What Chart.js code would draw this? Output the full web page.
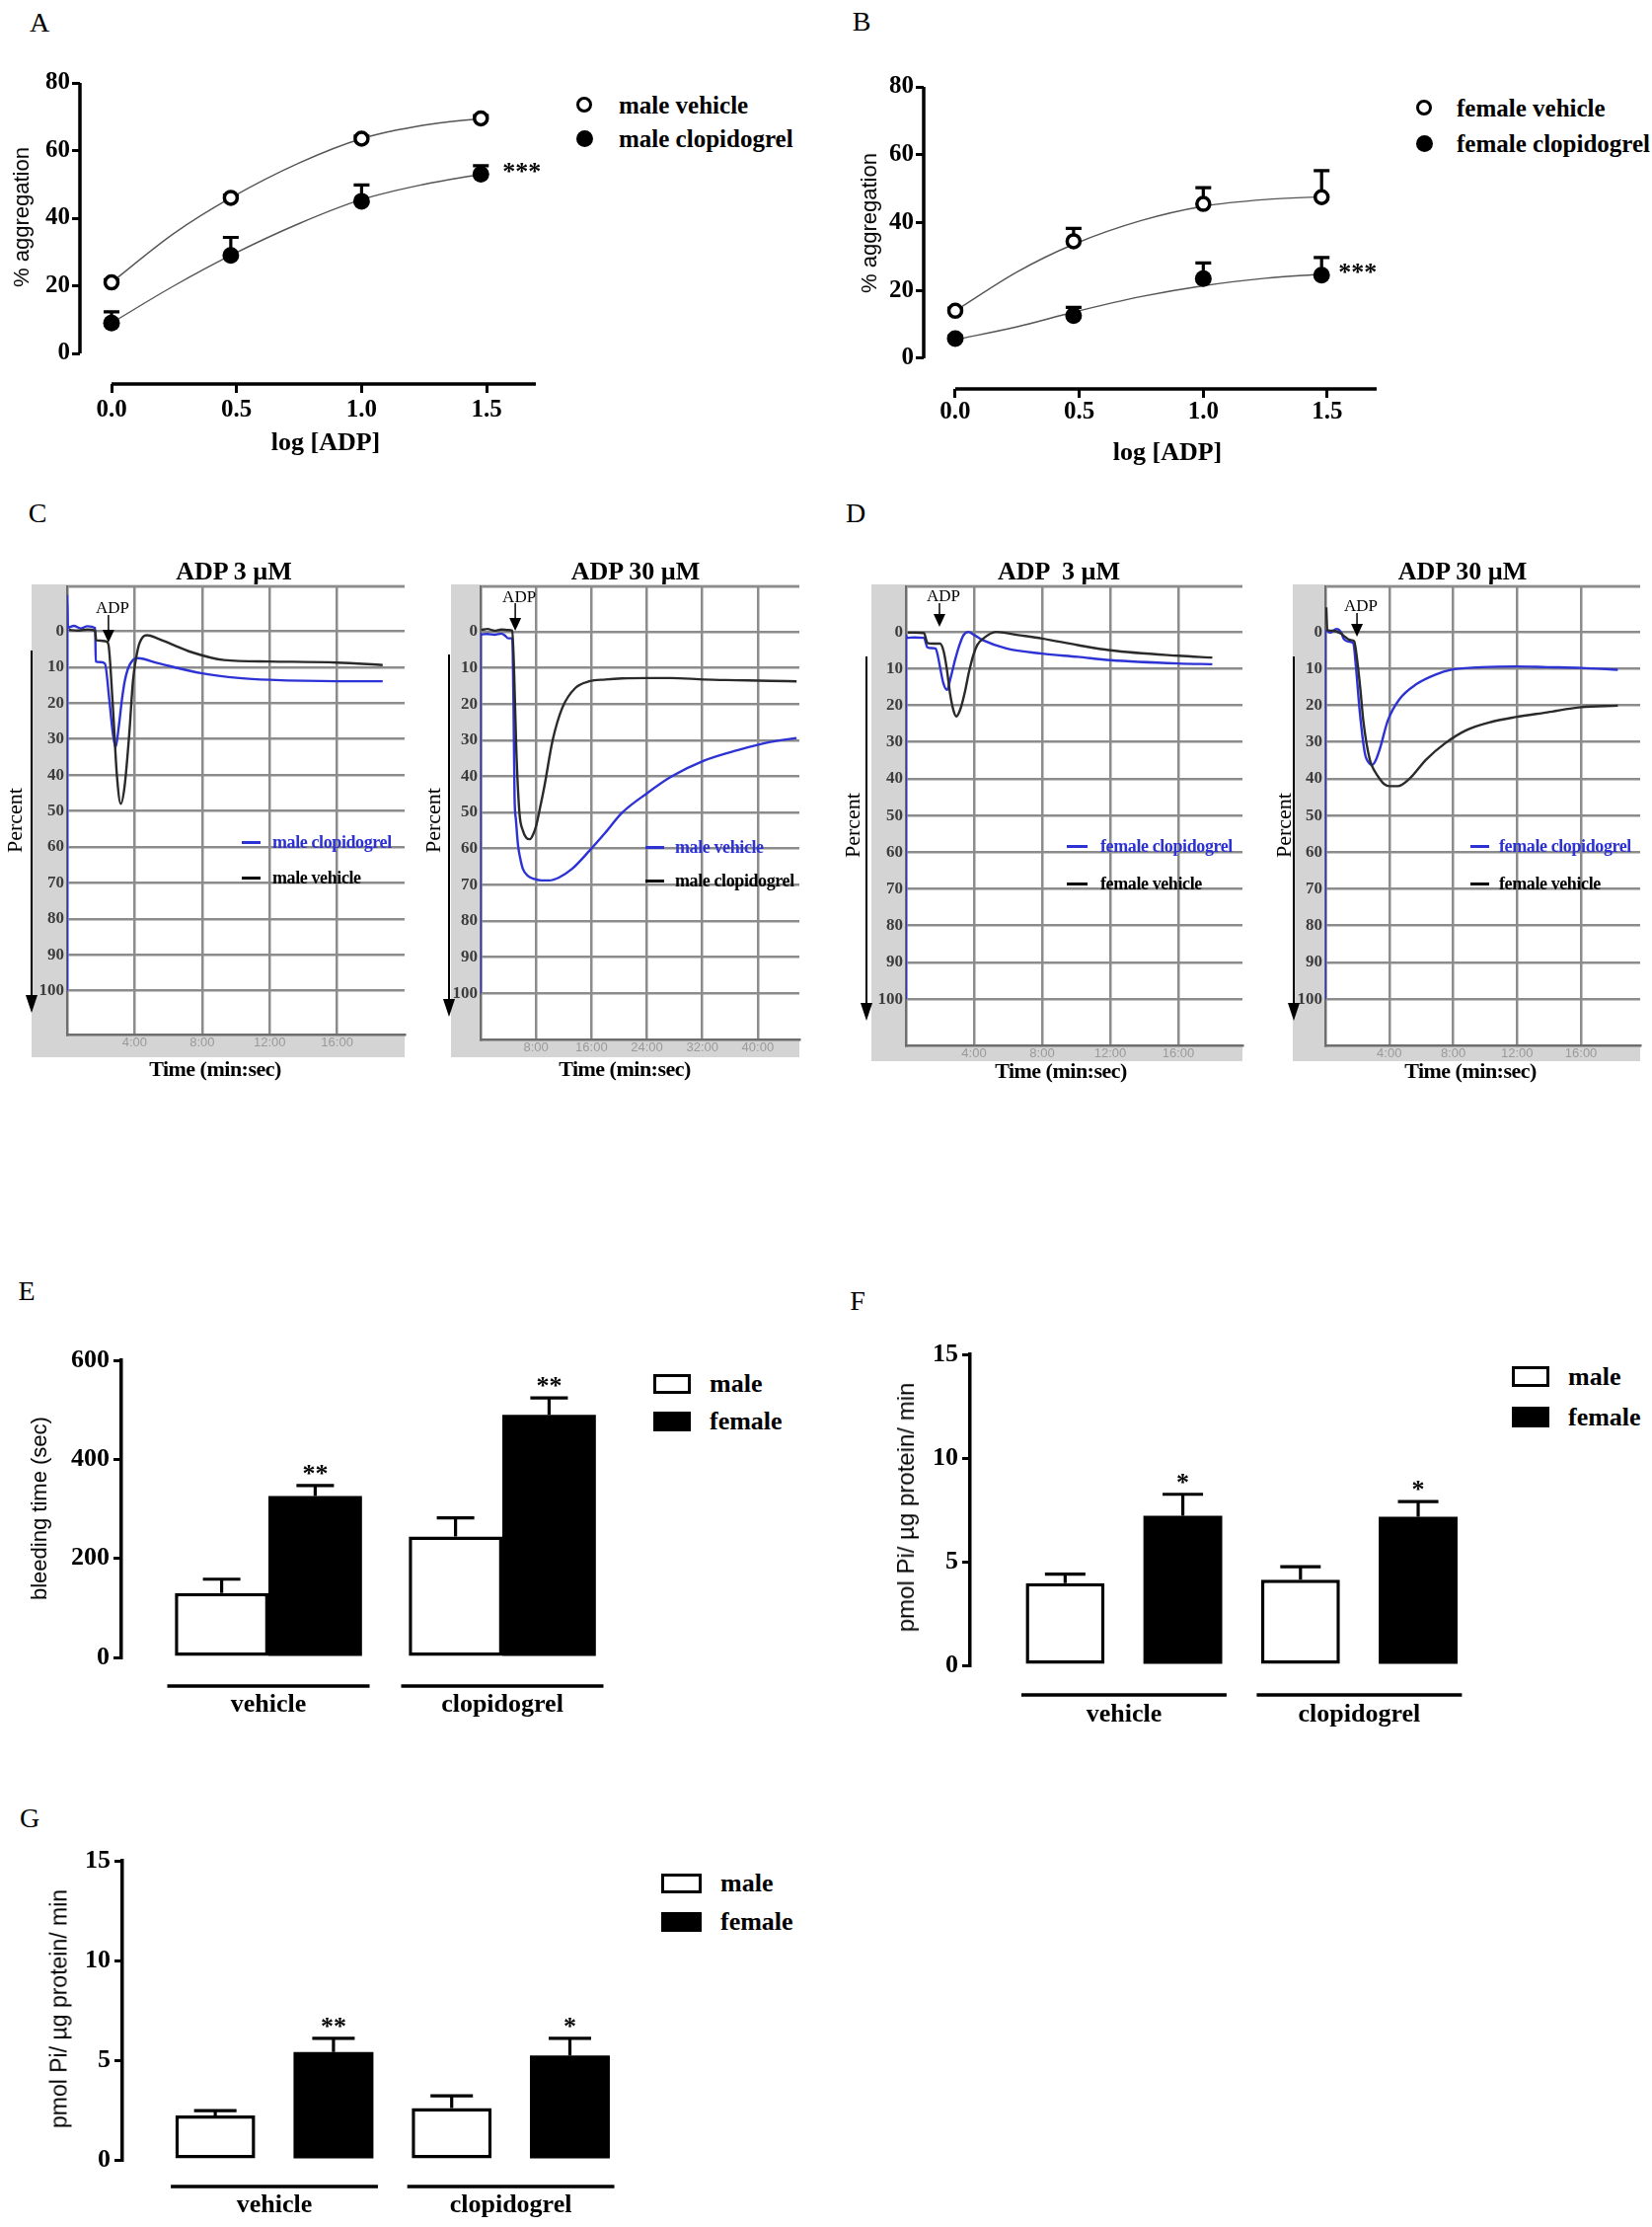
<!DOCTYPE html>
<html>
<head>
<meta charset="utf-8">
<script src="https://cdn.jsdelivr.net/npm/chart.js@4.4.0/dist/chart.umd.min.js"></script>
<style>
  html, body { margin: 0; padding: 0; background: #fff; }
  #fig { position: relative; width: 1674px; height: 2256px; overflow: hidden; font-family: 'Liberation Serif', 'Times New Roman', serif; color: #000; }
  .t { position: absolute; white-space: pre; line-height: 1; }
</style>
</head>
<body>
<div id="fig"></div>
<script>
// ---- A / B : dose response ----
const doseLog = [0, 0.477, 1, 1.477];
const fitLog = [0, 0.25, 0.477, 0.75, 1, 1.25, 1.477];
const doseTicks = [0, 0.5, 1.0, 1.5];
const aggTicks = [0, 20, 40, 60, 80];

const maleVehicle = [21, 46, 63.5, 69.5];
const maleVehicleErr = [0.8, 0.8, 0.8, 0.8];
const maleClop = [9, 29, 45, 53];
const maleClopErr = [3.3, 5.3, 4.8, 2.5];
const maleVehicleFit = [21, 35.5, 46, 56.3, 63.5, 67.5, 69.5];
const maleClopFit = [9, 20, 29, 38.4, 45.5, 50, 53];

const femaleVehicle = [14, 34.5, 45.5, 47.5];
const femaleVehicleErr = [0.8, 3.8, 4.8, 7.8];
const femaleClop = [5.8, 12.6, 23.5, 24.5];
const femaleClopErr = [0.8, 2.4, 4.6, 5.2];
const femaleVehicleFit = [14, 25.5, 33.6, 40.6, 44.8, 46.8, 47.6];
const femaleClopFit = [5.5, 9.3, 13.6, 18.2, 21.4, 23.6, 24.8];

// ---- C / D : aggregometer traces (time in min, % aggregation) ----
const percentTicks = [0, 10, 20, 30, 40, 50, 60, 70, 80, 90, 100];
const shortTicks = [4, 8, 12, 16];
const longTicks = [8, 16, 24, 32, 40];

const cLowClopT = [0, 0.001, 0.05, 0.4, 0.8, 1.2, 1.66, 1.7, 2.0, 2.24, 2.5, 2.7, 2.87, 3.05, 3.25, 3.41, 3.6, 3.9, 4.2, 5.4, 8, 10.2, 12, 16, 18.7];
const cLowClopV = [100, -10, -1, -1.5, -0.8, -1.4, -0.9, 8.4, 8.6, 9, 19, 28, 32.3, 27, 19, 14, 10.5, 8, 7.5, 8.9, 11.7, 13, 13.5, 13.9, 13.9];
const cLowVehT = [0.1, 0.6, 1.2, 1.66, 1.72, 2.0, 2.3, 2.44, 2.7, 2.95, 3.18, 3.41, 3.7, 3.9, 4.2, 4.49, 4.74, 5.37, 6.3, 7.3, 9.3, 12, 16, 18.7];
const cLowVehV = [-0.4, -0.2, -0.5, -0.2, 2.5, 2.6, 2.8, 3.5, 20, 40, 48, 43, 27.5, 14, 4.8, 1.6, 1.1, 2.0, 3.8, 5.7, 8.0, 8.4, 8.7, 9.4];

const cHighVehT = [0, 0.001, 0.1, 1, 2, 3, 3.5, 4.0, 4.57, 4.75, 4.9, 5.1, 5.4, 5.7, 6.1, 6.8, 7.76, 8.8, 9.9, 11.3, 13.2, 15.7, 18, 20.4, 24, 27.5, 32.3, 37, 41.8, 45.6];
const cHighVehV = [100, 0.5, 0.7, 0.6, 0.8, 0.5, 1.0, 1.8, 1.8, 20, 45.6, 52, 59, 62.5, 65.6, 67.5, 68.4, 68.8, 68.8, 68, 65.6, 60.6, 55.6, 50.1, 44.7, 40.1, 35.6, 32.8, 30.5, 29.4];
const cHighClopT = [0.1, 1, 2, 3, 4, 4.57, 4.85, 5.14, 5.6, 6.1, 6.6, 7.1, 7.6, 8, 8.6, 9.2, 10.4, 11.8, 13.7, 15.7, 18, 20.4, 24, 27.5, 32.3, 37, 41.8, 45.6];
const cHighClopV = [-0.5, -0.8, -0.3, -0.6, -0.5, -0.3, 12, 31.9, 50, 55, 57, 57.4, 56, 53.8, 48.5, 42.8, 30, 21, 15.5, 13.7, 13.2, 12.9, 12.8, 12.8, 13.2, 13.4, 13.6, 13.7];

const dLowClopT = [0, 0.001, 0.05, 0.5, 1.06, 1.26, 1.5, 1.74, 1.85, 2.0, 2.2, 2.42, 2.6, 2.9, 3.15, 3.38, 3.67, 4.0, 4.54, 5.9, 8, 10.1, 12, 16, 18];
const dLowClopV = [100, 0.8, 1.6, 1.5, 1.6, 4.2, 4.4, 4.5, 6, 9.5, 14, 15.8, 13, 7.4, 3.5, 0.9, 0, 0.8, 2.3, 4.5, 5.9, 6.8, 7.7, 8.6, 8.8];
const dLowVehT = [0.1, 0.5, 1.06, 1.26, 1.6, 2.0, 2.2, 2.4, 2.6, 2.8, 2.96, 3.2, 3.48, 3.7, 3.96, 4.2, 4.54, 5.3, 6.5, 8, 10.1, 12, 16, 18];
const dLowVehV = [0.2, 0.2, 0.3, 3.0, 3.2, 3.2, 5, 10, 17, 21.5, 23, 21, 16, 11, 6.3, 3.5, 1.8, 0, 0.8, 1.8, 3.6, 5.0, 6.5, 7.0];

const dHighClopT = [0, 0.001, 0.05, 0.3, 0.7, 1.0, 1.14, 1.55, 1.75, 1.92, 2.16, 2.47, 2.75, 2.95, 3.15, 3.4, 3.92, 4.64, 5.67, 6.9, 7.9, 9.8, 11.9, 13.9, 16, 18.3];
const dHighClopV = [100, -0.4, -0.4, 0.2, -0.8, 0.2, 1.8, 2.7, 3.1, 9.8, 22, 33, 35.8, 36.2, 35, 32, 24, 18.3, 14.3, 11.6, 10.3, 9.6, 9.4, 9.6, 9.8, 10.3];
const dHighVehT = [0.06, 0.12, 0.5, 1.0, 1.14, 1.55, 1.8, 2.0, 2.2, 2.37, 2.78, 3.1, 3.4, 3.7, 4.0, 4.54, 5.26, 6.3, 7.5, 8.8, 10.4, 11.9, 13.9, 16, 18.3];
const dHighVehV = [-6.7, -0.5, -0.3, 0.5, 1.0, 2.2, 2.5, 8, 16, 24, 34.8, 38, 40, 41.5, 42, 42, 40, 34.8, 30.3, 26.8, 24.5, 23.2, 21.9, 20.5, 20.1];

// ---- E / F / G : bars ----
const groupX = [0, 1];
const groupNames = ['vehicle', 'clopidogrel'];
const bleedTicks = [0, 200, 400, 600];
const piTicks = [0, 5, 10, 15];

const bleedMale = [130, 244];
const bleedMaleErr = [28, 38];
const bleedFemale = [326, 490];
const bleedFemaleErr = [21, 34];
const bleedStars = ['**', '**'];

const fMale = [3.97, 4.13];
const fMaleErr = [0.43, 0.63];
const fFemale = [7.22, 7.17];
const fFemaleErr = [1.03, 0.73];
const fStars = ['*', '*'];

const gMale = [2.23, 2.6];
const gMaleErr = [0.24, 0.61];
const gFemale = [5.41, 5.24];
const gFemaleErr = [0.69, 0.86];
const gStars = ['**', '*'];

const BLUE = '#2d32d4';
const DARK = '#2a2a2a';

Chart.defaults.font.family = "'Liberation Serif', 'Times New Roman', serif";
Chart.defaults.color = '#000';

const fig = document.getElementById('fig');

function zeroPad(s) { s.paddingLeft = 0; s.paddingRight = 0; s.paddingTop = 0; s.paddingBottom = 0; }

// place a chart so that its chartArea lands on page pixels "area"
function mount(box, area, cfg) {
  const cv = document.createElement('canvas');
  cv.width = box.w; cv.height = box.h;
  cv.style.cssText = 'position:absolute;left:' + box.x + 'px;top:' + box.y + 'px;width:' + box.w + 'px;height:' + box.h + 'px';
  fig.appendChild(cv);
  const o = cfg.options;
  o.responsive = false;
  o.animation = false;
  o.events = [];
  o.layout = { autoPadding: false, padding: { left: 0, bottom: 0, top: area.t - box.y, right: box.x + box.w - area.r } };
  o.plugins = Object.assign({ legend: { display: false }, tooltip: { enabled: false }, title: { display: false } }, o.plugins || {});
  o.scales.x.afterFit = s => { s.height = box.y + box.h - area.b; zeroPad(s); };
  o.scales.y.afterFit = s => { s.width = area.l - box.x; zeroPad(s); };
  return new Chart(cv, cfg);
}

function txt(s, x, y, css, mode) {
  const d = document.createElement('div');
  d.className = 't';
  d.textContent = s;
  d.style.cssText = css + ';left:' + x + 'px;top:' + y + 'px';
  d.style.transform = mode === 'l' ? 'translateY(-50%)' : mode === 'v' ? 'translate(-50%,-50%) rotate(-90deg)' : 'translate(-50%,-50%)';
  fig.appendChild(d);
}

function rect(x, y, w, h, css) {
  const d = document.createElement('div');
  d.style.cssText = 'position:absolute;box-sizing:border-box;left:' + x + 'px;top:' + y + 'px;width:' + w + 'px;height:' + h + 'px;' + css;
  fig.appendChild(d);
}

function valOf(d) { return typeof d === 'object' ? d.y : d; }

function drawErrors(chart, layer) {
  const { ctx, scales: { y } } = chart;
  chart.data.datasets.forEach((ds, di) => {
    if (!ds.errors || ds.errLayer !== layer) return;
    chart.getDatasetMeta(di).data.forEach((el, i) => {
      const v = valOf(ds.data[i]);
      const yTop = y.getPixelForValue(v + ds.errors[i]);
      const yBase = y.getPixelForValue(v);
      ctx.save();
      ctx.strokeStyle = '#000';
      ctx.lineWidth = 3.2;
      ctx.beginPath();
      ctx.moveTo(el.x, yBase); ctx.lineTo(el.x, yTop);
      ctx.moveTo(el.x - ds.cap / 2, yTop); ctx.lineTo(el.x + ds.cap / 2, yTop);
      ctx.stroke();
      ctx.restore();
    });
  });
}

function drawStars(chart) {
  const { ctx, scales: { y } } = chart;
  chart.data.datasets.forEach((ds, di) => {
    if (!ds.stars) return;
    const els = chart.getDatasetMeta(di).data;
    ctx.save();
    ctx.fillStyle = '#000';
    ctx.font = 'bold 26px "Liberation Serif"';
    ds.stars.forEach((s, i) => {
      if (!s) return;
      const el = els[i];
      if (ds.starSide) {
        ctx.textAlign = 'left'; ctx.textBaseline = 'middle';
        ctx.fillText(s, el.x + ds.starSide, el.y - 1);
      } else {
        const top = y.getPixelForValue(valOf(ds.data[i]) + ds.errors[i]);
        ctx.textAlign = 'center'; ctx.textBaseline = 'alphabetic';
        ctx.fillText(s, el.x, top - 4);
      }
    });
    ctx.restore();
  });
}

const errorPlugin = {
  id: 'errorBars',
  beforeDatasetsDraw(chart) { drawErrors(chart, 'under'); },
  afterDatasetsDraw(chart) { drawErrors(chart, 'over'); drawStars(chart); }
};

// Prism style axes that stop at the first tick
function prismAxes(y0, y1) {
  return {
    id: 'prismAxes',
    afterDraw(chart) {
      const { ctx, chartArea: a, scales: { x, y } } = chart;
      ctx.save();
      ctx.strokeStyle = '#000';
      ctx.lineWidth = 3.5;
      ctx.beginPath();
      ctx.moveTo(a.left, y.getPixelForValue(y0)); ctx.lineTo(a.left, y.getPixelForValue(y1));
      ctx.moveTo(x.getPixelForValue(0), a.bottom); ctx.lineTo(a.right, a.bottom);
      ctx.stroke();
      ctx.restore();
    }
  };
}

function groupLines(half, dy) {
  return {
    id: 'groupLines',
    afterDraw(chart) {
      const { ctx, chartArea: a, scales: { x } } = chart;
      ctx.save();
      ctx.strokeStyle = '#000';
      ctx.lineWidth = 3.5;
      ctx.beginPath();
      groupX.forEach(g => {
        ctx.moveTo(x.getPixelForValue(g - half), a.bottom + dy);
        ctx.lineTo(x.getPixelForValue(g + half), a.bottom + dy);
      });
      ctx.stroke();
      ctx.restore();
    }
  };
}

function aggFrame(p) {
  return {
    id: 'aggFrame',
    beforeDraw(chart) {
      const { ctx, chartArea: a } = chart;
      ctx.save();
      ctx.fillStyle = '#d4d4d4';
      ctx.fillRect(a.left - p.gutter, a.top - 2, a.right - a.left + p.gutter, chart.height - a.top + 2);
      ctx.fillStyle = '#fff';
      ctx.fillRect(a.left, a.top, a.right - a.left, a.bottom - a.top);
      ctx.restore();
    },
    afterDraw(chart) {
      const { ctx, chartArea: a, scales: { x } } = chart;
      ctx.save();
      ctx.strokeStyle = '#000';
      ctx.fillStyle = '#000';
      // long arrow next to "Percent"
      const ax = a.left - p.arrowGut;
      const y0 = a.top + p.arrowY[0], y1 = a.top + p.arrowY[1];
      ctx.lineWidth = 2;
      ctx.beginPath(); ctx.moveTo(ax, y0); ctx.lineTo(ax, y1 - 16); ctx.stroke();
      ctx.beginPath(); ctx.moveTo(ax - 6, y1 - 18); ctx.lineTo(ax + 6, y1 - 18); ctx.lineTo(ax, y1); ctx.closePath(); ctx.fill();
      // ADP addition marker
      const px = x.getPixelForValue(p.adp.t);
      ctx.font = '17px "Liberation Serif"';
      ctx.textAlign = 'center';
      ctx.textBaseline = 'middle';
      ctx.fillText('ADP', px + 4, a.top + p.adp.labelY);
      ctx.lineWidth = 1.5;
      ctx.beginPath(); ctx.moveTo(px, a.top + p.adp.y1); ctx.lineTo(px, a.top + p.adp.y2 - 10); ctx.stroke();
      ctx.beginPath(); ctx.moveTo(px - 6, a.top + p.adp.y2 - 13); ctx.lineTo(px + 6, a.top + p.adp.y2 - 13); ctx.lineTo(px, a.top + p.adp.y2); ctx.closePath(); ctx.fill();
      ctx.restore();
    }
  };
}

function doseChart(p) {
  const pts = arr => doseLog.map((x, i) => ({ x, y: arr[i] }));
  const fit = arr => fitLog.map((x, i) => ({ x, y: arr[i] }));
  const tickFont = { size: 25, weight: 'bold' };
  const tickGrid = len => ({ display: true, drawOnChartArea: false, drawTicks: true, tickLength: len, lineWidth: 3, color: '#000' });
  return mount(p.box, p.area, {
    type: 'line',
    data: {
      datasets: [
        { data: pts(p.veh), showLine: false, pointRadius: 6.5, pointBorderWidth: 3.5, pointBackgroundColor: '#fff', pointBorderColor: '#000', errors: p.vehErr, errLayer: 'under', cap: 16, order: 0, clip: false },
        { data: pts(p.clop), showLine: false, pointRadius: 8.5, pointBorderWidth: 0, pointBackgroundColor: '#000', pointBorderColor: '#000', errors: p.clopErr, errLayer: 'under', cap: 16, stars: ['', '', '', '***'], starSide: p.starDx, order: 1, clip: false },
        { data: fit(p.vehFit), borderColor: '#555', borderWidth: 1.4, pointRadius: 0, cubicInterpolationMode: 'monotone', order: 3 },
        { data: fit(p.clopFit), borderColor: '#555', borderWidth: 1.4, pointRadius: 0, cubicInterpolationMode: 'monotone', order: 3 }
      ]
    },
    options: {
      scales: {
        x: {
          type: 'linear', min: p.xMin, max: p.xMax,
          afterBuildTicks: s => { s.ticks = doseTicks.map(v => ({ value: v })); },
          ticks: { callback: v => v.toFixed(1), font: tickFont, color: '#000', padding: p.xPad, maxRotation: 0, autoSkip: false },
          grid: tickGrid(9), border: { display: false }
        },
        y: {
          type: 'linear', min: p.yMin, max: 80,
          afterBuildTicks: s => { s.ticks = aggTicks.map(v => ({ value: v })); },
          ticks: { font: tickFont, color: '#000', padding: 2, autoSkip: false },
          grid: tickGrid(8), border: { display: false }
        }
      }
    },
    plugins: [errorPlugin, prismAxes(0, 80)]
  });
}

function traceChart(p) {
  const datasets = p.series.map(s => ({
    data: s.t.map((t, i) => ({ x: t, y: s.v[i] })),
    borderColor: s.color, borderWidth: 2.4, pointRadius: 0, fill: false,
    cubicInterpolationMode: 'monotone'
  }));
  return mount(p.box, p.area, {
    type: 'line',
    data: { datasets },
    options: {
      scales: {
        x: {
          type: 'linear', min: 0, max: p.xMax,
          afterBuildTicks: s => { s.ticks = p.xTicks.map(v => ({ value: v })); },
          ticks: { callback: v => v + ':00', font: { family: "'Liberation Sans', sans-serif", size: 13 }, color: '#9a9a9a', padding: 1, maxRotation: 0, autoSkip: false },
          grid: { color: '#8c8c8c', lineWidth: 2.5, drawTicks: false },
          border: { display: true, color: '#6e6e6e', width: 2.5 }
        },
        y: {
          type: 'linear', reverse: true, min: p.yMin, max: p.yMax,
          afterBuildTicks: s => { s.ticks = [p.yMin].concat(percentTicks).map(v => ({ value: v })); },
          ticks: { callback: v => (v < 0 ? '' : v), font: { size: 17, weight: 'bold' }, color: '#3c3c3c', padding: 3, autoSkip: false },
          grid: { color: '#8c8c8c', lineWidth: 2.5, drawTicks: false },
          border: { display: true, color: '#6e6e6e', width: 2.5 }
        }
      }
    },
    plugins: [aggFrame(p)]
  });
}

function barChart(p) {
  const pts = arr => groupX.map((x, i) => ({ x, y: arr[i] }));
  return mount(p.box, p.area, {
    type: 'bar',
    data: {
      datasets: [
        { data: pts(p.male), backgroundColor: '#fff', borderColor: '#000', borderWidth: 3.5, borderSkipped: false, categoryPercentage: p.catPct, barPercentage: p.barPct, errors: p.maleErr, errLayer: 'over', cap: p.cap },
        { data: pts(p.female), backgroundColor: '#000', borderColor: '#000', borderWidth: 0, categoryPercentage: p.catPct, barPercentage: p.barPct, errors: p.femaleErr, errLayer: 'over', cap: p.cap, stars: p.stars }
      ]
    },
    options: {
      scales: {
        x: {
          type: 'linear', min: p.xMin, max: p.xMax, offset: false,
          afterBuildTicks: s => { s.ticks = groupX.map(v => ({ value: v })); },
          ticks: { callback: v => groupNames[groupX.indexOf(v)], font: { size: 26, weight: 'bold' }, color: '#000', padding: p.labelPad, maxRotation: 0, autoSkip: false },
          grid: { display: false, drawTicks: false, tickLength: 0, offset: false },
          border: { display: false }
        },
        y: {
          type: 'linear', min: 0, max: p.yTicks[p.yTicks.length - 1],
          afterBuildTicks: s => { s.ticks = p.yTicks.map(v => ({ value: v })); },
          ticks: { font: { size: 26, weight: 'bold' }, color: '#000', padding: 4, autoSkip: false },
          grid: { display: true, drawOnChartArea: false, drawTicks: true, tickLength: 8, lineWidth: 3, color: '#000' },
          border: { display: true, color: '#000', width: 3.5 }
        }
      }
    },
    plugins: [errorPlugin, groupLines(p.half, p.lineDy)]
  });
}

// ---------- A ----------
doseChart({
  box: { x: 0, y: 60, w: 560, h: 420 }, area: { l: 81, t: 84, r: 543, b: 389 },
  xMin: -0.1263, xMax: 1.697, yMin: -9.05, xPad: 3, starDx: 22,
  veh: maleVehicle, vehErr: maleVehicleErr, clop: maleClop, clopErr: maleClopErr,
  vehFit: maleVehicleFit, clopFit: maleClopFit
});
// ---------- B ----------
doseChart({
  box: { x: 840, y: 60, w: 570, h: 420 }, area: { l: 936, t: 88, r: 1395, b: 394 },
  xMin: -0.1273, xMax: 1.699, yMin: -9.02, xPad: 0, starDx: 17,
  veh: femaleVehicle, vehErr: femaleVehicleErr, clop: femaleClop, clopErr: femaleClopErr,
  vehFit: femaleVehicleFit, clopFit: femaleClopFit
});

// ---------- C ----------
traceChart({
  box: { x: 20, y: 570, w: 392, h: 501 }, area: { l: 68, t: 594, r: 410, b: 1048 },
  gutter: 36, arrowGut: 36, arrowY: [65, 432],
  xMax: 20, yMin: -12.5, yMax: 112.2, xTicks: shortTicks,
  series: [{ t: cLowVehT, v: cLowVehV, color: DARK }, { t: cLowClopT, v: cLowClopV, color: BLUE }],
  adp: { t: 2.45, labelY: 23, y1: 29, y2: 57 }
});
traceChart({
  box: { x: 445, y: 570, w: 367, h: 501 }, area: { l: 487, t: 594, r: 810, b: 1053 },
  gutter: 30, arrowGut: 32, arrowY: [69, 436],
  xMax: 46, yMin: -12.57, yMax: 112.8, xTicks: longTicks,
  series: [{ t: cHighClopT, v: cHighClopV, color: DARK }, { t: cHighVehT, v: cHighVehV, color: BLUE }],
  adp: { t: 5.0, labelY: 12, y1: 17, y2: 45 }
});

// ---------- D ----------
traceChart({
  box: { x: 870, y: 570, w: 391, h: 505 }, area: { l: 918, t: 594, r: 1259, b: 1059 },
  gutter: 35, arrowGut: 40, arrowY: [71, 440],
  xMax: 19.77, yMin: -12.4, yMax: 112.6, xTicks: shortTicks,
  series: [{ t: dLowVehT, v: dLowVehV, color: DARK }, { t: dLowClopT, v: dLowClopV, color: BLUE }],
  adp: { t: 1.97, labelY: 11, y1: 17, y2: 41 }
});
traceChart({
  box: { x: 1298, y: 570, w: 366, h: 505 }, area: { l: 1343, t: 594, r: 1662, b: 1059 },
  gutter: 33, arrowGut: 32, arrowY: [71, 440],
  xMax: 19.7, yMin: -12.4, yMax: 112.6, xTicks: shortTicks,
  series: [{ t: dHighVehT, v: dHighVehV, color: DARK }, { t: dHighClopT, v: dHighClopV, color: BLUE }],
  adp: { t: 1.98, labelY: 21, y1: 27, y2: 51 }
});

// ---------- E ----------
barChart({
  box: { x: 0, y: 1350, w: 660, h: 420 }, area: { l: 123, t: 1378, r: 640, b: 1679 },
  xMin: -0.6287, xMax: 1.5527, yTicks: bleedTicks, catPct: 0.8, barPct: 1.0,
  half: 0.4325, lineDy: 29, labelPad: 33, cap: 38,
  male: bleedMale, maleErr: bleedMaleErr, female: bleedFemale, femaleErr: bleedFemaleErr, stars: bleedStars
});
// ---------- F ----------
barChart({
  box: { x: 820, y: 1345, w: 700, h: 425 }, area: { l: 983, t: 1372, r: 1500, b: 1687 },
  xMin: -0.654, xMax: 1.514, yTicks: piTicks, catPct: 1.0, barPct: 0.67,
  half: 0.436, lineDy: 30, labelPad: 35, cap: 41,
  male: fMale, maleErr: fMaleErr, female: fFemale, femaleErr: fFemaleErr, stars: fStars
});
// ---------- G ----------
barChart({
  box: { x: 0, y: 1860, w: 660, h: 396 }, area: { l: 124, t: 1885, r: 640, b: 2188 },
  xMin: -0.643, xMax: 1.511, yTicks: piTicks, catPct: 1.0, barPct: 0.676,
  half: 0.438, lineDy: 27, labelPad: 31, cap: 43,
  male: gMale, maleErr: gMaleErr, female: gFemale, femaleErr: gFemaleErr, stars: gStars
});

// ---------- text & legends ----------
const letter = 'font-size:28px';
txt('A', 40, 23, letter); txt('B', 873, 22, letter);
txt('C', 38, 520, letter); txt('D', 867, 520, letter);
txt('E', 27, 1308, letter); txt('F', 869, 1318, letter); txt('G', 30, 1842, letter);

const sans = "font-family:'Liberation Sans',sans-serif;";
const boldLbl = 'font-weight:bold;font-size:25px';
txt('% aggregation', 22, 220, sans + 'font-size:22px', 'v');
txt('log [ADP]', 330, 448, 'font-weight:bold;font-size:26px');
rect(584, 98, 16, 16, 'border:3.5px solid #000;border-radius:50%;background:#fff');
rect(583.5, 131.5, 17, 17, 'background:#000;border-radius:50%');
txt('male vehicle', 627, 106, boldLbl, 'l');
txt('male clopidogrel', 627, 140, boldLbl, 'l');

txt('% aggregation', 881, 226, sans + 'font-size:22px', 'v');
txt('log [ADP]', 1183, 458, 'font-weight:bold;font-size:26px');
rect(1435, 101, 16, 16, 'border:3.5px solid #000;border-radius:50%;background:#fff');
rect(1434.5, 136.5, 17, 17, 'background:#000;border-radius:50%');
txt('female vehicle', 1476, 109, boldLbl, 'l');
txt('female clopidogrel', 1476, 145, boldLbl, 'l');

const ttl = 'font-weight:bold;font-size:26px';
const tim = 'font-weight:bold;font-size:22px;letter-spacing:-0.5px';
const pct = 'font-size:22px';
const leg = 'font-weight:bold;font-size:18px;letter-spacing:-0.4px';
txt('ADP 3 µM', 237, 579, ttl); txt('ADP 30 µM', 644, 579, ttl);
txt('Time (min:sec)', 218, 1083, tim); txt('Time (min:sec)', 633, 1083, tim);
txt('Percent', 15, 831, pct, 'v'); txt('Percent', 439, 831, pct, 'v');
rect(245, 852, 19, 2.5, 'background:' + BLUE); txt('male clopidogrel', 276, 853, leg + ';color:' + BLUE, 'l');
rect(245, 888, 19, 2.5, 'background:#000'); txt('male vehicle', 276, 889, leg, 'l');
rect(654, 857, 19, 2.5, 'background:' + BLUE); txt('male vehicle', 684, 858, leg + ';color:' + BLUE, 'l');
rect(654, 891, 19, 2.5, 'background:#000'); txt('male clopidogrel', 684, 892, leg, 'l');

txt('ADP  3 µM', 1073, 579, ttl); txt('ADP 30 µM', 1482, 579, ttl);
txt('Time (min:sec)', 1075, 1085, tim); txt('Time (min:sec)', 1490, 1085, tim);
txt('Percent', 864, 836, pct, 'v'); txt('Percent', 1301, 836, pct, 'v');
rect(1081, 856, 21, 2.5, 'background:' + BLUE); txt('female clopidogrel', 1115, 857, leg + ';color:' + BLUE, 'l');
rect(1081, 894, 21, 2.5, 'background:#000'); txt('female vehicle', 1115, 895, leg, 'l');
rect(1490, 856, 19, 2.5, 'background:' + BLUE); txt('female clopidogrel', 1519, 857, leg + ';color:' + BLUE, 'l');
rect(1490, 894, 19, 2.5, 'background:#000'); txt('female vehicle', 1519, 895, leg, 'l');

const barLeg = 'font-weight:bold;font-size:26px';
txt('bleeding time (sec)', 40, 1528, sans + 'font-size:22px', 'v');
rect(662, 1392, 38, 20, 'border:3px solid #000;background:#fff');
rect(662, 1430, 38, 20, 'background:#000');
txt('male', 719, 1402, barLeg, 'l'); txt('female', 719, 1440, barLeg, 'l');

txt('pmol Pi/ µg protein/ min', 918, 1527, sans + 'font-size:24px', 'v');
rect(1532, 1384, 38, 21, 'border:3px solid #000;background:#fff');
rect(1532, 1425, 38, 21, 'background:#000');
txt('male', 1589, 1395, barLeg, 'l'); txt('female', 1589, 1436, barLeg, 'l');

txt('pmol Pi/ µg protein/ min', 60, 2035, sans + 'font-size:23px', 'v');
rect(670, 1898, 41, 20, 'border:3px solid #000;background:#fff');
rect(670, 1937, 41, 20, 'background:#000');
txt('male', 730, 1908, barLeg, 'l'); txt('female', 730, 1947, barLeg, 'l');
</script>
</body>
</html>
